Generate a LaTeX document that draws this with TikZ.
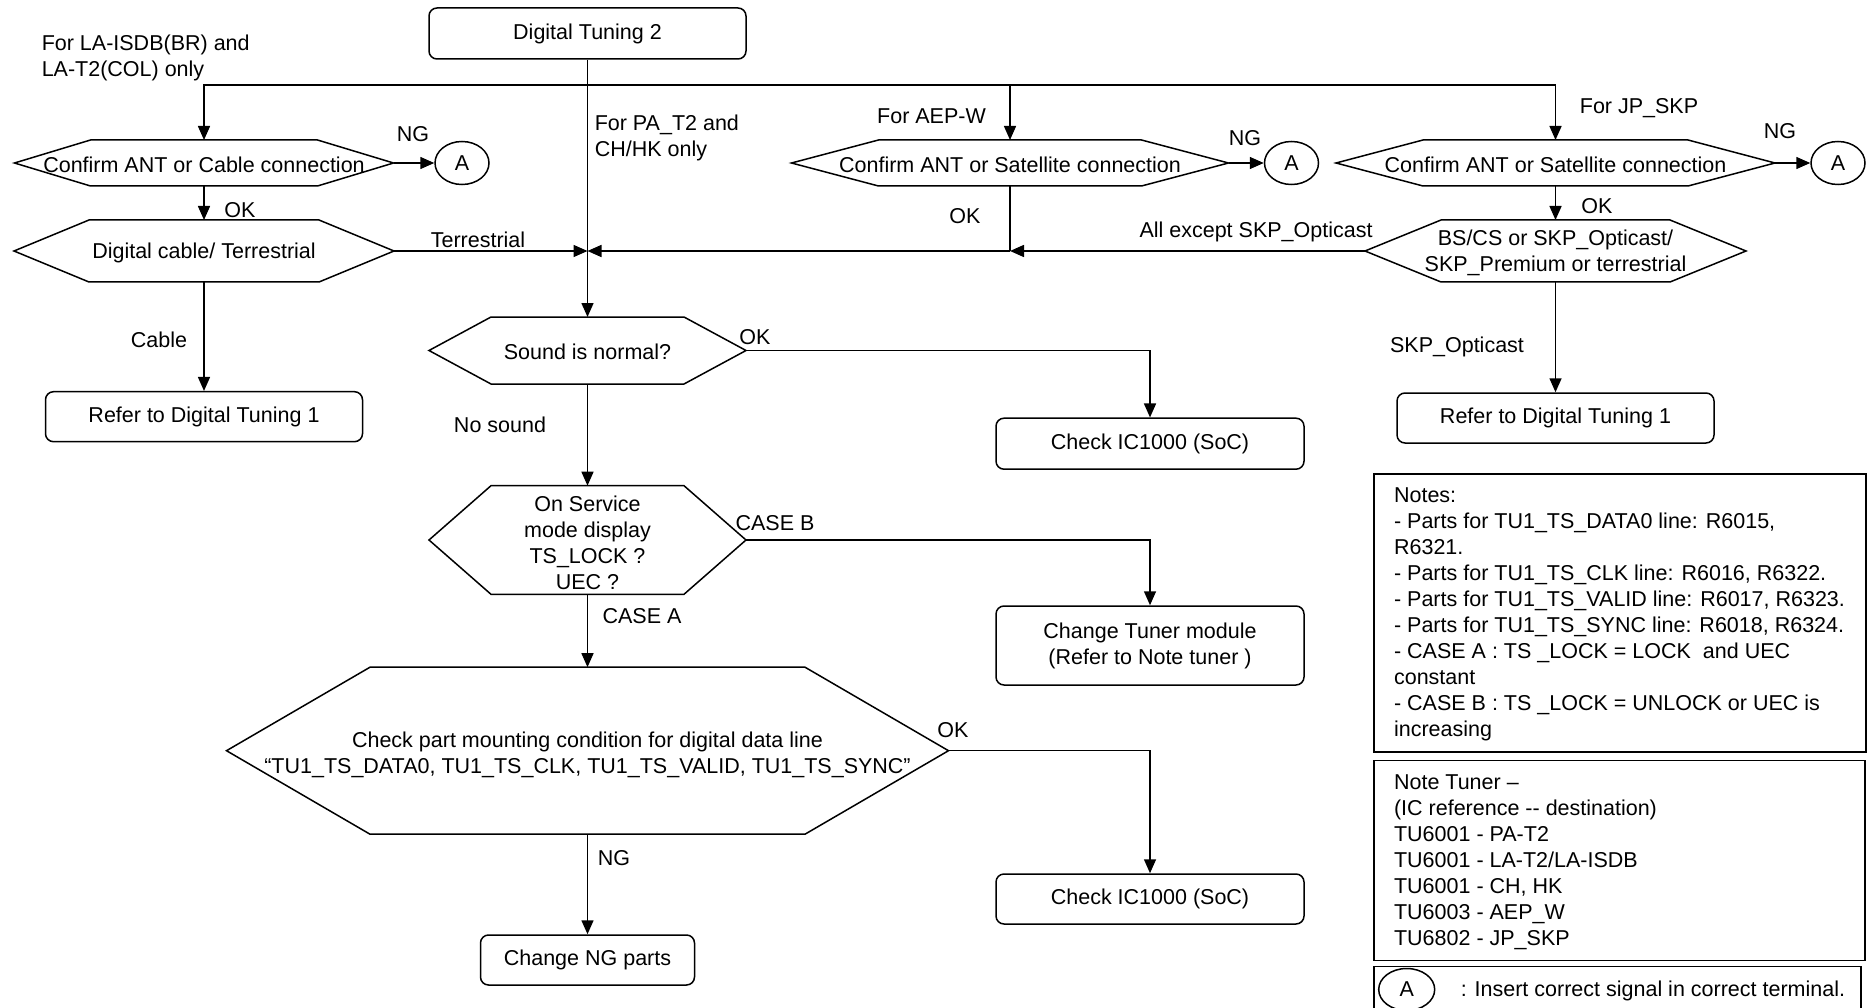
\documentclass[tikz,border=0pt]{standalone}
\usepackage{fontspec}
\setmainfont{Liberation Sans}
\usetikzlibrary{arrows.meta,shapes.geometric}
\newcommand\hexdraw[6]{%
  \draw (#2-#4,#3) -- (#2-#4+#6,#3-#5) -- (#2+#4-#6,#3-#5) -- (#2+#4,#3) -- (#2+#4-#6,#3+#5) -- (#2-#4+#6,#3+#5) -- cycle;
  \coordinate (#1-w) at (#2-#4,#3);
  \coordinate (#1-e) at (#2+#4,#3);
  \coordinate (#1-n) at (#2,#3-#5);
  \coordinate (#1-s) at (#2,#3+#5);
}
\begin{document}
\begin{tikzpicture}[x=1pt,y=-1pt,line width=1.5pt,
  every node/.style={font=\fontsize{21.5}{26}\selectfont, inner sep=0pt},
  box/.style={draw, rounded corners=8pt, align=center},
  conn/.style={draw, ellipse, minimum width=54pt, minimum height=43pt},
  arr/.style={-{Triangle[length=14pt,width=12pt]}},
  txt/.style={yshift=-1.5pt},
  lbl/.style={txt, align=left}
]
\useasboundingbox (0,0) rectangle (1868,1008);

% ---------- boxes ----------
\node (dt2) [box, minimum width=317pt, minimum height=51pt] at (587.5,33.5) {Digital Tuning 2};
\node (refL) [box, minimum width=317pt, minimum height=50pt] at (204,416.7) {Refer to Digital Tuning 1};
\node (refR) [box, minimum width=317pt, minimum height=50pt] at (1555.5,418) {Refer to Digital Tuning 1};
\node (chk1) [box, minimum width=308pt, minimum height=51pt] at (1150,443.7) {Check IC1000 (SoC)};
\node (tuner) [box, minimum width=308pt, minimum height=79pt] at (1150,645.5) {Change Tuner module\\(Refer to Note tuner )};
\node (chk2) [box, minimum width=308pt, minimum height=50pt] at (1150,899) {Check IC1000 (SoC)};
\node (ngp) [box, minimum width=214pt, minimum height=50pt] at (587.5,960) {Change NG parts};

% ---------- hexagons ----------
\hexdraw{d1}{204}{163}{189.5}{23}{76}
\node (d1) [txt] at (204,163) {Confirm ANT or Cable connection};
\hexdraw{d2}{204}{251}{190}{31}{75}
\node (d2) [txt] at (204,251) {Digital cable/ Terrestrial};
\hexdraw{d3}{1010}{163}{218.5}{23}{87}
\node (d3) [txt] at (1010,163) {Confirm ANT or Satellite connection};
\hexdraw{d4}{1555.5}{163}{219.5}{23}{87}
\node (d4) [txt] at (1555.5,163) {Confirm ANT or Satellite connection};
\hexdraw{d5}{1555.5}{251}{190.5}{31}{76}
\node (d5) [txt, align=center] at (1555.5,251.5) {BS/CS or SKP\_Opticast/\\SKP\_Premium or terrestrial};
\hexdraw{snd}{587.5}{350.5}{158.5}{33.5}{62}
\node (snd) [txt] at (587.5,350.5) {Sound is normal?};
\hexdraw{ts}{587.5}{540}{158.5}{54.3}{62}
\node (ts) [txt, align=center] at (587.5,541) {On Service\\mode display\\TS\_LOCK ?\\UEC ?};
\hexdraw{big}{587.5}{750.7}{361}{83.5}{143.5}
\node (big) [txt, align=center] at (587.5,753) {Check part mounting condition for digital data line\\“TU1\_TS\_DATA0, TU1\_TS\_CLK, TU1\_TS\_VALID, TU1\_TS\_SYNC”};

% ---------- connectors A ----------
\node (A1) [conn] at (462,163) {A};
\node (A2) [conn] at (1291.5,163) {A};
\node (A3) [conn] at (1838,163) {A};

% ---------- connectors ----------
\coordinate (br) at (587.5,85);
\coordinate (j1) at (1010,251);
\coordinate (j2) at (587.5,251);
\draw[arr] (dt2.south) -- (snd-n);
\draw[arr] (br) -| (d1-n);
\draw[arr] (br) -| (d3-n);
\draw[arr] (br) -| (d4-n);
\draw[arr] (d1-e) -- (A1.west);
\draw[arr] (d3-e) -- (A2.west);
\draw[arr] (d4-e) -- (A3.west);
\draw[arr] (d1-s) -- (d2-n);
\draw[arr] (d4-s) -- (d5-n);
\draw[arr] (d2-e) -- (j2);
\draw[arr] (d2-s) -- (refL.north);
\draw[arr] (d5-w) -- (j1);
\draw (d3-s) -- (j1);
\draw[arr] (j1) -- (j2);
\draw[arr] (d5-s) -- (refR.north);
\draw[arr] (snd-e) -| (chk1.north);
\draw[arr] (snd-s) -- (ts-n);
\draw[arr] (ts-e) -| (tuner.north);
\draw[arr] (ts-s) -- (big-n);
\draw[arr] (big-e) -| (chk2.north);
\draw[arr] (big-s) -- (ngp.north);

% ---------- labels ----------
\node (l1) [lbl, anchor=west] at (41,56.5) {For LA-ISDB(BR) and\\LA-T2(COL) only};
\node (l2) [lbl, anchor=west] at (594,136.5) {For PA\_T2 and\\CH/HK only};
\node (l3) [txt] at (931.5,115) {For AEP-W};
\node (l4) [txt] at (1639,107) {For JP\_SKP};
\node (l5) [txt] at (413,133) {NG};
\node (l6) [txt] at (1245,137) {NG};
\node (l7) [txt] at (1780,130) {NG};
\node (l8) [txt] at (240,209) {OK};
\node (l9) [txt] at (965,215) {OK};
\node (l10) [txt] at (1597,205) {OK};
\node (l11) [txt] at (478,238) {Terrestrial};
\node (l12) [txt] at (1256,230) {All except SKP\_Opticast};
\node (l13) [txt] at (159,338) {Cable};
\node (l14) [txt] at (1457,345) {SKP\_Opticast};
\node (l15) [txt] at (755,336) {OK};
\node (l16) [txt] at (500,423) {No sound};
\node (l17) [txt] at (775,522) {CASE B};
\node (l18) [txt] at (642,615) {CASE A};
\node (l19) [txt] at (953,729) {OK};
\node (l20) [txt] at (614,857) {NG};

% ---------- notes ----------
\node (notes) [draw, anchor=north west, minimum width=491.7pt, minimum height=278pt] at (1373.3,473.3) {};
\node (notestxt) [lbl, anchor=west] at ([xshift=20pt]notes.west) {Notes:\\- Parts for TU1\_TS\_DATA0 line: R6015,\\R6321.\\- Parts for TU1\_TS\_CLK line: R6016, R6322.\\- Parts for TU1\_TS\_VALID line: R6017, R6323.\\- Parts for TU1\_TS\_SYNC line: R6018, R6324.\\- CASE A : TS \_LOCK = LOCK~ and UEC\\constant\\- CASE B : TS \_LOCK = UNLOCK or UEC is\\increasing};
\node (tnote) [draw, anchor=north west, minimum width=490.7pt, minimum height=200.3pt] at (1373.3,759.5) {};
\node (tnotetxt) [lbl, anchor=west] at ([xshift=20pt]tnote.west) {Note Tuner –\\(IC reference -{}- destination)\\TU6001 - PA-T2\\TU6001 - LA-T2/LA-ISDB\\TU6001 - CH, HK\\TU6003 - AEP\_W\\TU6802 - JP\_SKP};
\node (legend) [draw, anchor=north west, minimum width=486.7pt, minimum height=44pt] at (1373.3,965.8) {};
\node (legA) [conn, minimum width=56pt, minimum height=42pt] at (1406.7,989.5) {A};
\node (legtxt) [txt, anchor=west] at (1460,989.5) {: Insert correct signal in correct terminal.};
\end{tikzpicture}
\end{document}
